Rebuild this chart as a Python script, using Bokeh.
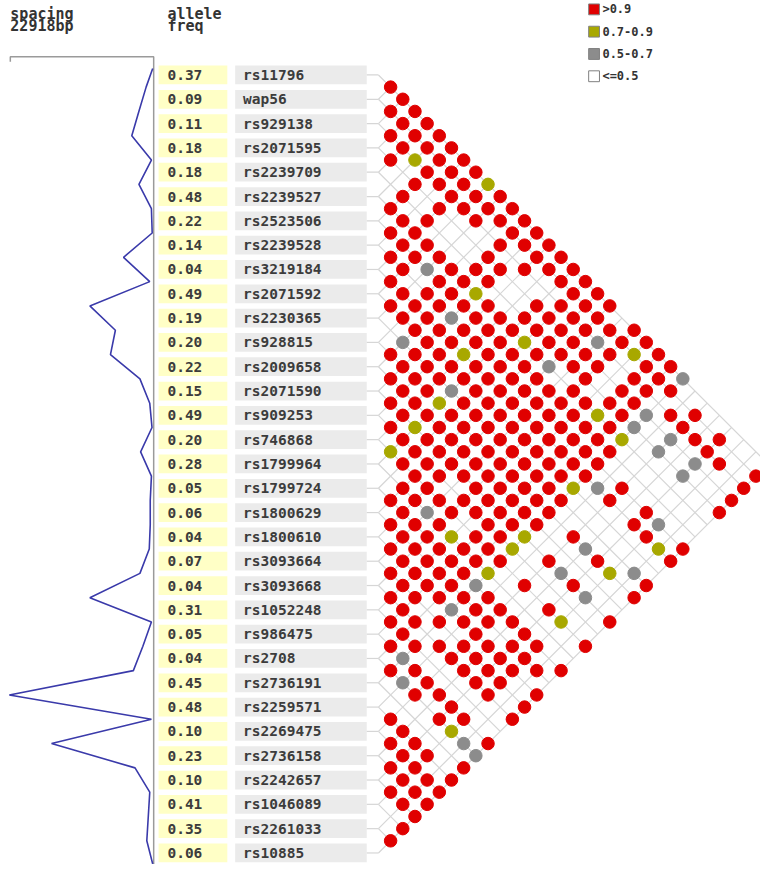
from bokeh.plotting import figure
from bokeh.models import Range1d
from bokeh.embed import file_html
from bokeh.resources import INLINE
from bokeh.core.properties import value

# ---------------- data ----------------
snps = ["rs11796", "wap56", "rs929138", "rs2071595", "rs2239709", "rs2239527",
        "rs2523506", "rs2239528", "rs3219184", "rs2071592", "rs2230365", "rs928815",
        "rs2009658", "rs2071590", "rs909253", "rs746868", "rs1799964", "rs1799724",
        "rs1800629", "rs1800610", "rs3093664", "rs3093668", "rs1052248", "rs986475",
        "rs2708", "rs2736191", "rs2259571", "rs2269475", "rs2736158", "rs2242657",
        "rs1046089", "rs2261033", "rs10885"]
allele_freq = [0.37, 0.09, 0.11, 0.18, 0.18, 0.48, 0.22, 0.14, 0.04, 0.49, 0.19, 0.20,
               0.22, 0.15, 0.49, 0.20, 0.28, 0.05, 0.06, 0.04, 0.07, 0.04, 0.31, 0.05,
               0.04, 0.45, 0.48, 0.10, 0.23, 0.10, 0.41, 0.35, 0.06]
# physical gap (bp) between consecutive markers
spacing_bp = [1052, 2213, 3344, 204, 2198, 204, 80, 4662, 471, 10046, 5965, 6750,
              2041, 471, 110, 1931, 204, 392, 392, 549, 2041, 10046, 204, 1570,
              3092, 22918, 204, 16168, 2825, 471, 706, 942]
max_spacing_bp = 22918

# LD class of each marker pair, listed by anti-diagonal (i + j = level),
# inner pairs first: R >0.9, Y 0.7-0.9, G 0.5-0.7, . <=0.5
ld_levels = [
    "R", "R", "RR", "RR", "RRR", "RRR", "RYRR", ".RRR", ".RRRY", "R.RRR",
    "R.RRRR", "RR.RRR", "RR...RR", "RR..RRR", "RRR.R.RR", "RGRRRRRR",
    "R.RRR..RR", "RRRY...RR", "RRRRR.RRRR", "RRGRRRRRR.", ".RRRRRRRRRR",
    "GRRRRYRRGRR", "RRRYRRRRRRYR", "RRRRRRGRR.RR", "RRRRRRR.R.RRG",
    "RRGRRRRR.RRR.", "RRYRRRRRRRR...", "RRRRRRRRYRGRR.", "RYRRRRRRRRG.R..",
    "RRRRRRRRRY.GRR.", "YRRRRRRRRR.G.R..", "RRRRRRRRR...GR..", ".RRRRRRRR...G..R",
    "RR.RRRRYGR....R", "RRRRRRRR.R....R", "RGRRRRR...R..R", "RRR.RRR...RG..",
    "RRYRRY.R..R..", "RRRRRY..G..YR", "RRRRR.R.R..R", "RRRRY..G.YG.",
    "RRRG.R.R..R", "RRRRR...G.R", "R.GRR.R...", "RRRRRR.Y.R", "R..R.R...",
    "RRRRRRR.R", "G.RRRR..", "RR.RRRRR", "GR.RR..", ".RR.R.R", "..R..R",
    "R.RR.R", "R.Y..", "RR.GR", "RR.G", "RR.R", "RRR", "RRR", "RR", ".R", "R", "R",
]
ld_labels = [">0.9", "0.7-0.9", "0.5-0.7", "<=0.5"]
ld_codes = ["R", "Y", "G", "."]
ld_colors = ["#E00000", "#A8A800", "#8C8C8C", "#FFFFFF"]

# ---------------- layout (reference pixel units) ----------------
ROW0, ROW_H = 78.5, 24.65
X0, DX = 386.9, 12.4
AXIS_X, SCALE_LEFT, SCALE_Y = 158.0, 12.0, 60.0
MONO = value("DejaVu Sans Mono")
n = len(snps)
row_y = [ROW0 + k * ROW_H for k in range(n)]

p = figure(width=760, height=864, x_range=Range1d(2, 776), y_range=Range1d(879, 3),
           output_backend="svg", toolbar_location=None, x_axis_type=None,
           y_axis_type=None, min_border=0)
p.grid.visible = False
p.outline_line_color = None
p.background_fill_color = "white"

# headers
p.text(x=[12, 12, 172, 172], y=[17, 29, 17, 29],
       text=["spacing", f"{max_spacing_bp}bp", "allele", "freq"],
       text_font=MONO, text_font_style="bold", text_font_size="15px",
       text_baseline="middle", text_color="#333333")

# spacing scale + axis
p.line([SCALE_LEFT, SCALE_LEFT, AXIS_X, AXIS_X], [SCALE_Y + 5, SCALE_Y, SCALE_Y, 880],
       line_color="#9A9A9A", line_width=1.5)
span = AXIS_X - SCALE_LEFT
sx = [AXIS_X - 1] + [AXIS_X - 1 - g / max_spacing_bp * span for g in spacing_bp] + [AXIS_X - 1]
sy = ([ROW0 - 0.27 * ROW_H] + [ROW0 + (k + 0.5) * ROW_H for k in range(len(spacing_bp))]
      + [ROW0 + 32.45 * ROW_H])
p.line(sx, sy, line_color="#3A3AAA", line_width=1.6)

# label boxes
p.quad(left=[163] * n, right=[233] * n, top=[y - 9.5 for y in row_y],
       bottom=[y + 9.5 for y in row_y], fill_color="#FFFFC6", line_color=None)
p.quad(left=[241] * n, right=[375] * n, top=[y - 9.5 for y in row_y],
       bottom=[y + 9.5 for y in row_y], fill_color="#EBEBEB", line_color=None)
p.text(x=[172] * n, y=row_y, text=[f"{f:.2f}" for f in allele_freq], text_font=MONO,
       text_font_style="bold", text_font_size="14.5px", text_baseline="middle",
       text_color="#3C3C3C")
p.text(x=[249] * n, y=row_y, text=snps, text_font=MONO, text_font_style="bold",
       text_font_size="14.5px", text_baseline="middle", text_color="#3C3C3C")

# connectors and triangle grid
gx, gy = [], []
for k in range(n):
    gx.append([375, X0]); gy.append([row_y[k], row_y[k]])
    if k < n - 1:
        gx.append([X0, X0 + (n - 1 - k) * DX]); gy.append([row_y[k], (row_y[k] + row_y[-1]) / 2])
    if k > 0:
        gx.append([X0, X0 + k * DX]); gy.append([row_y[k], (row_y[0] + row_y[k]) / 2])
p.multi_line(gx, gy, line_color="#D6D6D6", line_width=1.2)

# LD cells
cx, cy, cc = [], [], []
for s, row in enumerate(ld_levels, start=1):
    d0 = 1 if s % 2 else 2
    for kk, ch in enumerate(row):
        if ch == ".":
            continue
        d = d0 + 2 * kk
        i, j = (s - d) // 2, (s + d) // 2
        cx.append(X0 + (j - i) * DX)
        cy.append((row_y[i] + row_y[j]) / 2)
        cc.append(ld_colors[ld_codes.index(ch)])
p.scatter(x=cx, y=cy, marker="circle", size=12.5, fill_color=cc, line_color=cc)

# legend
ly = [12 + 22.6 * k for k in range(4)]
p.quad(left=[601] * 4, right=[612] * 4, top=[y - 5.5 for y in ly], bottom=[y + 5.5 for y in ly],
       fill_color=ld_colors, line_color="#808080", line_width=1)
p.text(x=[615] * 4, y=ly, text=ld_labels, text_font=MONO, text_font_style="bold",
       text_font_size="12px", text_baseline="middle", text_color="#333333")

open("out.html", "w").write(file_html(p, INLINE))
